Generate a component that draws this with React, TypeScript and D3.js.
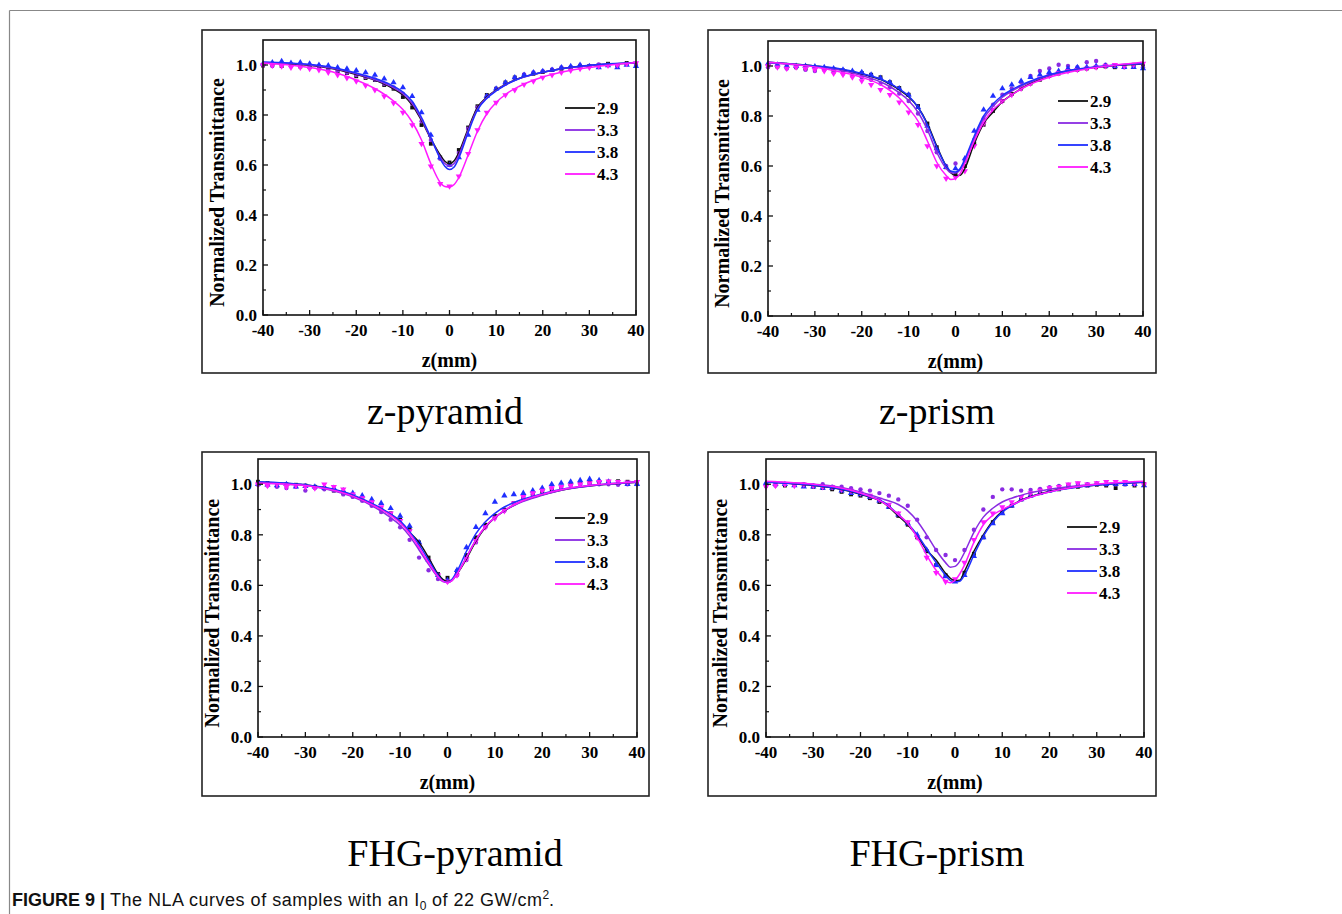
import React from 'react';
import * as d3 from 'd3';

// z positions of the fitted curves and of the measured points (mm)
const fitZ = [-40, -30, -25, -20, -15, -12, -10, -8, -6, -4, -2, -1, 0, 1, 2, 4, 6, 8, 10, 12, 15, 20, 25, 30, 40];
const dataZ = [-40, -38, -36, -34, -32, -30, -28, -26, -24, -22, -20, -18, -16, -14, -12, -10, -8, -6, -4, -2, 0,
  2, 4, 6, 8, 10, 12, 14, 16, 18, 20, 22, 24, 26, 28, 30, 32, 34, 36, 38, 40];

const seriesNames = ['2.9', '3.3', '3.8', '4.3'];
const seriesColors = ['#111111', '#8a2be2', '#1f2fff', '#ff1aff'];

const xTicks = [-40, -30, -20, -10, 0, 10, 20, 30, 40];
const xMinor = [-35, -25, -15, -5, 5, 15, 25, 35];
const yTicks = [0, 0.2, 0.4, 0.6, 0.8, 1.0];
const yMinor = [0.1, 0.3, 0.5, 0.7, 0.9];

// z-pyramid
const zPyramidFits = [
  [1.008, 0.999, 0.985, 0.962, 0.932, 0.905, 0.88, 0.84, 0.778, 0.705, 0.64, 0.615, 0.605, 0.617, 0.65, 0.745, 0.83, 0.872, 0.9, 0.922, 0.947, 0.971, 0.988, 0.998, 1.008],
  [1.01, 1.0, 0.987, 0.965, 0.935, 0.909, 0.885, 0.846, 0.783, 0.705, 0.632, 0.606, 0.596, 0.606, 0.64, 0.738, 0.825, 0.869, 0.898, 0.921, 0.946, 0.971, 0.988, 0.998, 1.009],
  [1.012, 1.002, 0.99, 0.968, 0.94, 0.915, 0.892, 0.855, 0.79, 0.71, 0.625, 0.595, 0.582, 0.592, 0.628, 0.73, 0.82, 0.866, 0.896, 0.92, 0.946, 0.971, 0.988, 0.999, 1.01],
  [1.008, 0.99, 0.972, 0.94, 0.895, 0.856, 0.822, 0.772, 0.7, 0.605, 0.53, 0.514, 0.512, 0.522, 0.55, 0.64, 0.735, 0.805, 0.85, 0.882, 0.915, 0.952, 0.975, 0.99, 1.01],
];
const zPyramidPoints = [
  [0.998, 1.002, 0.996, 1.0, 0.994, 0.992, 0.99, 0.985, 0.975, 0.968, 0.955, 0.948, 0.94, 0.92, 0.905, 0.872, 0.83, 0.76, 0.685, 0.63, 0.61, 0.66, 0.75, 0.835, 0.88, 0.905, 0.93, 0.95, 0.96, 0.965, 0.972, 0.98, 0.985, 0.988, 0.995, 0.996, 1.0, 1.005, 1.0, 1.008, 1.002],
  [1.0, 0.996, 1.0, 0.995, 0.998, 0.99, 0.995, 0.985, 0.978, 0.97, 0.96, 0.952, 0.942, 0.925, 0.91, 0.885, 0.845, 0.775, 0.7, 0.625, 0.6, 0.648, 0.745, 0.83, 0.875, 0.905, 0.925, 0.948, 0.962, 0.97, 0.975, 0.982, 0.99, 0.992, 0.998, 0.996, 1.002, 1.0, 0.998, 1.004, 1.0],
  [1.005, 1.01, 1.015, 1.008, 1.01, 1.005, 1.0, 0.998, 0.99, 0.985, 0.978, 0.97, 0.96, 0.945, 0.93, 0.91, 0.875, 0.81, 0.72, 0.63, 0.6, 0.63, 0.72, 0.82, 0.875, 0.905, 0.93, 0.95, 0.96, 0.97, 0.975, 0.98, 0.99, 0.995, 1.0, 0.995, 0.99, 0.998, 0.99, 1.0, 0.995],
  [1.0, 0.998, 0.995, 0.99, 0.99, 0.985, 0.98, 0.97, 0.96, 0.948, 0.935, 0.918, 0.9, 0.875, 0.848, 0.81, 0.76, 0.685, 0.595, 0.525, 0.515, 0.555, 0.645, 0.74, 0.81, 0.85, 0.88, 0.9, 0.922, 0.935, 0.95, 0.96, 0.97, 0.978, 0.985, 0.99, 0.995, 0.998, 1.0, 1.005, 1.008],
];

// z-prism
const zPrismFits = [
  [1.015, 1.0, 0.988, 0.968, 0.938, 0.905, 0.877, 0.835, 0.77, 0.68, 0.6, 0.573, 0.562, 0.563, 0.59, 0.69, 0.77, 0.815, 0.857, 0.885, 0.92, 0.962, 0.983, 0.995, 1.008],
  [1.012, 0.998, 0.985, 0.962, 0.928, 0.893, 0.862, 0.815, 0.745, 0.655, 0.59, 0.573, 0.572, 0.585, 0.62, 0.71, 0.79, 0.838, 0.875, 0.9, 0.928, 0.962, 0.983, 0.996, 1.01],
  [1.015, 1.0, 0.99, 0.97, 0.94, 0.908, 0.88, 0.835, 0.765, 0.675, 0.6, 0.58, 0.576, 0.59, 0.628, 0.72, 0.8, 0.848, 0.882, 0.905, 0.932, 0.965, 0.985, 0.997, 1.01],
  [1.015, 0.996, 0.978, 0.955, 0.915, 0.872, 0.83, 0.78, 0.7, 0.615, 0.562, 0.546, 0.55, 0.57, 0.61, 0.7, 0.775, 0.825, 0.857, 0.885, 0.918, 0.955, 0.978, 0.994, 1.015],
];
const zPrismPoints = [
  [1.0, 0.998, 0.995, 0.995, 0.99, 0.988, 0.99, 0.985, 0.982, 0.975, 0.972, 0.965, 0.955, 0.935, 0.912, 0.885, 0.84, 0.77, 0.675, 0.595, 0.565, 0.6, 0.69, 0.765, 0.82, 0.86, 0.888, 0.91, 0.93, 0.945, 0.96, 0.97, 0.98, 0.985, 0.99, 0.995, 0.998, 0.995, 1.0, 1.005, 1.0],
  [0.995, 1.0, 0.99, 0.995, 0.985, 0.98, 0.985, 0.975, 0.97, 0.96, 0.955, 0.945, 0.93, 0.915, 0.89, 0.86, 0.81, 0.74, 0.655, 0.6, 0.61, 0.62, 0.705, 0.79, 0.845, 0.885, 0.91, 0.935, 0.96, 0.98, 0.99, 1.005, 1.0, 0.995, 1.015, 1.02, 1.005, 1.0, 0.995, 1.0, 0.995],
  [1.01, 1.005, 1.0, 1.0, 1.0, 0.998, 0.995, 0.99, 0.985, 0.98, 0.975, 0.965, 0.952, 0.935, 0.91, 0.885, 0.835, 0.76, 0.67, 0.595, 0.59, 0.63, 0.74, 0.825, 0.88, 0.91, 0.925, 0.94, 0.955, 0.965, 0.975, 0.98, 0.99, 0.995, 0.995, 1.0, 1.0, 0.998, 0.995, 0.995, 0.99],
  [1.0, 0.995, 0.99, 0.995, 0.99, 0.985, 0.98, 0.97, 0.965, 0.955, 0.94, 0.925, 0.905, 0.885, 0.855, 0.815, 0.765, 0.68, 0.6, 0.55, 0.555, 0.58, 0.68, 0.77, 0.825, 0.86, 0.885, 0.91, 0.93, 0.95, 0.96, 0.972, 0.98, 0.985, 0.99, 0.995, 1.0, 1.005, 1.0, 1.005, 1.01],
];

// FHG-pyramid
const fhgPyramidFits = [
  [1.008, 0.997, 0.982, 0.955, 0.912, 0.88, 0.852, 0.81, 0.77, 0.71, 0.645, 0.624, 0.615, 0.622, 0.645, 0.705, 0.775, 0.83, 0.868, 0.895, 0.927, 0.958, 0.98, 0.993, 1.008],
  [1.005, 0.995, 0.978, 0.95, 0.905, 0.868, 0.838, 0.795, 0.74, 0.683, 0.632, 0.615, 0.612, 0.62, 0.645, 0.712, 0.78, 0.832, 0.868, 0.895, 0.925, 0.956, 0.98, 0.993, 1.008],
  [1.01, 0.998, 0.984, 0.958, 0.915, 0.882, 0.855, 0.812, 0.76, 0.7, 0.64, 0.618, 0.612, 0.625, 0.655, 0.735, 0.805, 0.852, 0.885, 0.91, 0.935, 0.963, 0.983, 0.995, 1.01],
  [1.005, 0.995, 0.98, 0.953, 0.91, 0.877, 0.848, 0.805, 0.75, 0.69, 0.635, 0.617, 0.612, 0.62, 0.645, 0.71, 0.78, 0.833, 0.868, 0.897, 0.928, 0.96, 0.982, 0.995, 1.01],
];
const fhgPyramidPoints = [
  [1.01, 1.005, 1.0, 1.0, 0.998, 0.995, 0.99, 0.985, 0.975, 0.965, 0.955, 0.94, 0.925, 0.905, 0.885, 0.86, 0.825, 0.77, 0.71, 0.645, 0.63, 0.655, 0.72, 0.79, 0.84, 0.875, 0.9, 0.925, 0.945, 0.96, 0.97, 0.98, 0.99, 1.0, 1.005, 1.008, 1.01, 1.01, 1.012, 1.01, 1.008],
  [0.998, 0.995, 0.99, 0.985, 0.99, 0.975, 0.985, 0.98, 0.975, 0.96, 0.95, 0.935, 0.915, 0.89, 0.86, 0.83, 0.78, 0.71, 0.66, 0.625, 0.615, 0.64, 0.7, 0.77, 0.83, 0.868, 0.895, 0.925, 0.945, 0.96, 0.975, 0.985, 0.99, 0.995, 1.0, 1.0, 1.0, 1.0, 0.998, 1.0, 1.0],
  [1.0, 0.998, 0.995, 1.0, 0.99, 0.992, 0.99, 0.985, 0.985, 0.975, 0.965, 0.955, 0.94, 0.925, 0.905, 0.875, 0.835, 0.77, 0.7, 0.64, 0.62, 0.66, 0.75, 0.83, 0.885, 0.93, 0.955, 0.96, 0.965, 0.975, 0.985, 1.0, 1.005, 1.01, 1.015, 1.02, 1.015, 1.01, 1.005, 1.0, 1.0],
  [1.0, 0.995, 1.0, 0.99, 0.995, 0.99, 0.985, 1.0, 0.99, 0.98, 0.96, 0.945, 0.93, 0.91, 0.885, 0.855, 0.815, 0.755, 0.695, 0.64, 0.615, 0.64, 0.705, 0.775, 0.83, 0.865, 0.895, 0.925, 0.95, 0.965, 0.975, 0.985, 0.99, 0.995, 1.0, 1.005, 1.01, 1.012, 1.01, 1.008, 1.01],
];

// FHG-prism
const fhgPrismFits = [
  [1.01, 0.995, 0.983, 0.96, 0.925, 0.875, 0.84, 0.795, 0.74, 0.7, 0.648, 0.628, 0.618, 0.62, 0.655, 0.735, 0.8, 0.855, 0.893, 0.917, 0.945, 0.972, 0.987, 0.997, 1.008],
  [1.01, 1.0, 0.99, 0.97, 0.94, 0.92, 0.895, 0.855, 0.8, 0.74, 0.69, 0.672, 0.675, 0.695, 0.73, 0.81, 0.87, 0.905, 0.93, 0.945, 0.962, 0.98, 0.992, 1.0, 1.01],
  [1.008, 0.996, 0.984, 0.962, 0.928, 0.88, 0.845, 0.8, 0.745, 0.69, 0.64, 0.62, 0.613, 0.616, 0.64, 0.72, 0.795, 0.85, 0.89, 0.915, 0.943, 0.97, 0.986, 0.997, 1.008],
  [1.012, 1.0, 0.988, 0.965, 0.925, 0.88, 0.845, 0.79, 0.72, 0.66, 0.618, 0.61, 0.62, 0.645, 0.68, 0.77, 0.84, 0.878, 0.9, 0.918, 0.943, 0.97, 0.988, 1.0, 1.012],
];
const fhgPrismPoints = [
  [0.995, 1.0, 0.995, 1.0, 0.995, 0.99, 0.985, 0.98, 0.97, 0.96, 0.955, 0.945, 0.93, 0.91, 0.875, 0.84, 0.79, 0.735, 0.68, 0.64, 0.62, 0.65, 0.725, 0.79, 0.85, 0.89, 0.915, 0.94, 0.955, 0.965, 0.975, 0.98, 0.99, 0.99, 0.995, 0.998, 0.995, 0.985, 1.0, 0.995, 1.0],
  [1.0, 0.995, 1.0, 0.998, 1.0, 0.995, 1.0, 0.99, 0.99, 0.985, 0.98, 0.975, 0.965, 0.955, 0.94, 0.915, 0.86, 0.79, 0.74, 0.72, 0.7, 0.74, 0.82, 0.9, 0.95, 0.98, 0.98, 0.975, 0.978, 0.982, 0.988, 0.993, 0.998, 1.002, 1.0, 1.003, 1.0, 1.0, 1.0, 1.0, 1.0],
  [1.005, 1.0, 1.0, 0.995, 0.99, 0.99, 0.985, 0.985, 0.975, 0.965, 0.96, 0.95, 0.935, 0.91, 0.88, 0.845, 0.8, 0.74, 0.68, 0.635, 0.615, 0.64, 0.715, 0.79, 0.845, 0.885, 0.915, 0.94, 0.955, 0.965, 0.975, 0.985, 0.99, 0.995, 0.995, 1.0, 1.0, 1.0, 1.0, 1.0, 0.995],
  [0.99, 0.995, 1.0, 0.995, 1.0, 0.995, 0.99, 0.99, 0.98, 0.975, 0.965, 0.955, 0.94, 0.92, 0.885, 0.85, 0.79, 0.71, 0.65, 0.615, 0.625, 0.69, 0.78, 0.85, 0.885, 0.91, 0.93, 0.95, 0.965, 0.975, 0.985, 0.99, 1.0, 1.005, 1.0, 1.005, 1.01, 1.01, 1.01, 1.005, 1.0],
];

const panels = [
  { title: 'z-pyramid', fits: zPyramidFits, points: zPyramidPoints,
    frame: [202, 30, 649, 373], plot: [263, 40, 636, 315], legend: [565, 108], titleX: 445, titleY: 424 },
  { title: 'z-prism', fits: zPrismFits, points: zPrismPoints,
    frame: [708, 30, 1156, 373], plot: [768, 41, 1143, 316], legend: [1058, 101], titleX: 937, titleY: 424 },
  { title: 'FHG-pyramid', fits: fhgPyramidFits, points: fhgPyramidPoints,
    frame: [202, 452, 649, 796], plot: [258, 459, 637, 737], legend: [555, 518], titleX: 455, titleY: 866 },
  { title: 'FHG-prism', fits: fhgPrismFits, points: fhgPrismPoints,
    frame: [708, 452, 1156, 796], plot: [766, 459, 1144, 737], legend: [1067, 527], titleX: 937, titleY: 866 },
];

const serif = '"Liberation Serif", "Times New Roman", serif';
const sans = '"Liberation Sans", Arial, sans-serif';

const symbolPaths = [
  d3.symbol().type(d3.symbolSquare).size(15)(),
  d3.symbol().type(d3.symbolCircle).size(15)(),
  d3.symbol().type(d3.symbolTriangle).size(17)(),
  d3.symbol().type(d3.symbolTriangle).size(17)(),
];

function Panel({ p }) {
  const [px0, py0, px1, py1] = p.plot;
  const [fx0, fy0, fx1, fy1] = p.frame;
  const x = d3.scaleLinear().domain([-40, 40]).range([px0, px1]);
  const y = d3.scaleLinear().domain([0, 1.1]).range([py1, py0]);
  const line = d3.line<[number, number]>()
    .x(d => x(d[0]))
    .y(d => y(d[1]))
    .curve(d3.curveMonotoneX);

  return (
    <g>
      <rect x={fx0} y={fy0} width={fx1 - fx0} height={fy1 - fy0} fill="none" stroke="#222" strokeWidth={1.6} />
      {p.points.map((vals, si) => (
        <g key={'pts' + si} fill={seriesColors[si]}>
          {vals.map((v, i) => (
            <path key={i} d={symbolPaths[si]}
              transform={`translate(${x(dataZ[i])},${y(v)})${si === 3 ? ' rotate(180)' : ''}`} />
          ))}
        </g>
      ))}
      {p.fits.map((vals, si) => (
        <path key={'fit' + si}
          d={line(vals.map((v, i) => [fitZ[i], v] as [number, number]))}
          fill="none" stroke={seriesColors[si]} strokeWidth={1.5} />
      ))}
      <rect x={px0} y={py0} width={px1 - px0} height={py1 - py0} fill="none" stroke="#111" strokeWidth={1.6} />
      {xTicks.map(t => (
        <g key={'xt' + t}>
          <line x1={x(t)} x2={x(t)} y1={py1} y2={py1 - 5} stroke="#111" strokeWidth={1.3} />
          <text x={x(t)} y={py1 + 21} textAnchor="middle" fontFamily={serif} fontWeight="bold" fontSize={17}>{t}</text>
        </g>
      ))}
      {xMinor.map(t => (
        <line key={'xm' + t} x1={x(t)} x2={x(t)} y1={py1} y2={py1 - 3} stroke="#111" strokeWidth={1.2} />
      ))}
      {yTicks.map(t => (
        <g key={'yt' + t}>
          <line x1={px0} x2={px0 + 5} y1={y(t)} y2={y(t)} stroke="#111" strokeWidth={1.3} />
          <text x={px0 - 6} y={y(t) + 6} textAnchor="end" fontFamily={serif} fontWeight="bold" fontSize={17}>{t.toFixed(1)}</text>
        </g>
      ))}
      {yMinor.map(t => (
        <line key={'ym' + t} x1={px0} x2={px0 + 3} y1={y(t)} y2={y(t)} stroke="#111" strokeWidth={1.2} />
      ))}
      <text x={(px0 + px1) / 2} y={py1 + 52} textAnchor="middle" fontFamily={serif} fontWeight="bold" fontSize={20}>z(mm)</text>
      <text transform={`translate(${px0 - 39},${y(0.49)}) rotate(-90)`} textAnchor="middle"
        fontFamily={serif} fontWeight="bold" fontSize={20}>Normalized Transmittance</text>
      {seriesNames.map((n, si) => {
        const ly = p.legend[1] + si * 22;
        return (
          <g key={'lg' + si}>
            <line x1={p.legend[0]} x2={p.legend[0] + 30} y1={ly} y2={ly} stroke={seriesColors[si]} strokeWidth={1.8} />
            <text x={p.legend[0] + 32} y={ly + 6} fontFamily={serif} fontWeight="bold" fontSize={17}>{n}</text>
          </g>
        );
      })}
      <text x={p.titleX} y={p.titleY} textAnchor="middle" fontFamily={serif} fontSize={38}>{p.title}</text>
    </g>
  );
}

export default function App() {
  return (
    <svg width={1342} height={914} style={{ position: 'absolute', left: 0, top: 0, background: '#fff' }}>
      <rect x={0} y={0} width={1342} height={914} fill="#fff" />
      <line x1={9.5} x2={1342} y1={10.5} y2={10.5} stroke="#888" strokeWidth={1.2} />
      <line x1={9.5} x2={9.5} y1={10.5} y2={914} stroke="#888" strokeWidth={1.2} />
      {panels.map(p => <Panel key={p.title} p={p} />)}
      <text x={12} y={906} fontFamily={sans} fontSize={18} fill="#111">
        <tspan fontWeight="bold">FIGURE 9 | </tspan>
        <tspan letterSpacing={0.5}>The NLA curves of samples with an I</tspan>
        <tspan fontSize={12} dy={4}>0</tspan>
        <tspan dy={-4} letterSpacing={0.5}> of 22 GW/cm</tspan>
        <tspan fontSize={12} dy={-7}>2</tspan>
        <tspan dy={7}>.</tspan>
      </text>
    </svg>
  );
}
